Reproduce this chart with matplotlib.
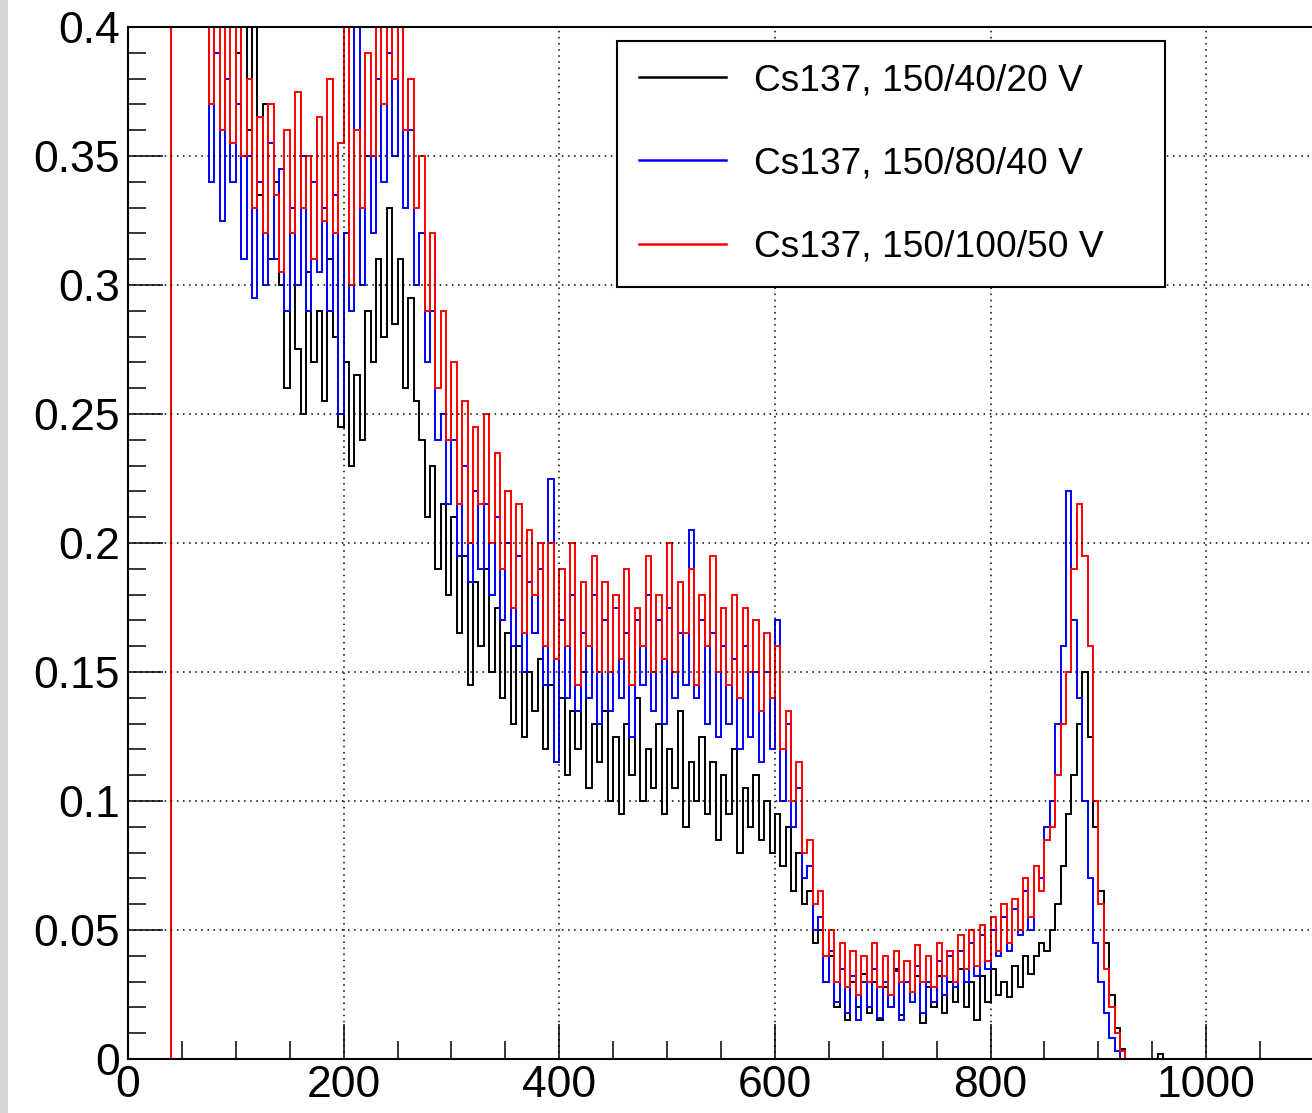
import numpy as np
import matplotlib
matplotlib.use('Agg')
import matplotlib.pyplot as plt
from matplotlib.patches import Rectangle

# ---- histogram data, 5-unit bins from 40 to 1000 ----
bin_lo, bin_hi, bin_w = 40, 1000, 5

black = [
    0.52, 0.58, 0.55, 0.50, 0.47, 0.49, 0.45, 0.46, 0.43, 0.44,          # 40-90
    0.44, 0.42, 0.39, 0.41, 0.36, 0.41, 0.335, 0.37, 0.31, 0.34,         # 90-140
    0.30, 0.26, 0.32, 0.275, 0.25, 0.305, 0.27, 0.29, 0.255, 0.31,       # 140-190
    0.28, 0.245, 0.27, 0.23, 0.265, 0.24, 0.29, 0.27, 0.31, 0.28,        # 190-240
    0.33, 0.285, 0.31, 0.26, 0.295, 0.255, 0.24, 0.21, 0.23, 0.19,       # 240-290
    0.215, 0.18, 0.21, 0.165, 0.195, 0.145, 0.185, 0.16, 0.19, 0.15,     # 290-340
    0.175, 0.14, 0.165, 0.13, 0.16, 0.125, 0.15, 0.135, 0.155, 0.12,     # 340-390
    0.145, 0.115, 0.14, 0.11, 0.135, 0.12, 0.15, 0.105, 0.13, 0.115,     # 390-440
    0.135, 0.10, 0.125, 0.095, 0.13, 0.11, 0.14, 0.10, 0.12, 0.105,      # 440-490
    0.13, 0.095, 0.12, 0.105, 0.135, 0.09, 0.115, 0.10, 0.125, 0.095,    # 490-540
    0.115, 0.085, 0.11, 0.095, 0.12, 0.08, 0.105, 0.09, 0.11, 0.085,     # 540-590
    0.10, 0.08, 0.095, 0.075, 0.09, 0.065, 0.08, 0.06, 0.065, 0.045,     # 590-640
    0.05, 0.03, 0.04, 0.02, 0.035, 0.015, 0.03, 0.02, 0.033, 0.018,      # 640-690
    0.03, 0.015, 0.028, 0.02, 0.035, 0.017, 0.03, 0.022, 0.032, 0.014,   # 690-740
    0.028, 0.02, 0.032, 0.018, 0.03, 0.022, 0.035, 0.02, 0.03, 0.015,    # 740-790
    0.032, 0.022, 0.035, 0.025, 0.03, 0.024, 0.036, 0.028, 0.04, 0.033,  # 790-840
    0.04, 0.045, 0.042, 0.05, 0.06, 0.075, 0.095, 0.11, 0.13, 0.15,      # 840-890
    0.125, 0.09, 0.065, 0.045, 0.025, 0.012, 0.004, 0.0, 0.0, 0.0,       # 890-940
    0.0, 0.0, 0.0, 0.002, 0.0, 0.0, 0.0, 0.0, 0.0, 0.0, 0.0, 0.0,        # 940-1000
]

blue = [
    0.50, 0.55, 0.52, 0.50, 0.47, 0.44, 0.41, 0.34, 0.39, 0.325,         # 40-90
    0.38, 0.34, 0.37, 0.31, 0.35, 0.295, 0.34, 0.30, 0.355, 0.31,        # 90-140
    0.345, 0.29, 0.33, 0.30, 0.35, 0.29, 0.34, 0.305, 0.33, 0.29,        # 140-190
    0.335, 0.25, 0.32, 0.29, 0.41, 0.30, 0.35, 0.32, 0.38, 0.34,         # 190-240
    0.39, 0.35, 0.41, 0.33, 0.36, 0.30, 0.32, 0.27, 0.29, 0.24,          # 240-290
    0.25, 0.215, 0.24, 0.195, 0.23, 0.185, 0.22, 0.19, 0.215, 0.18,      # 290-340
    0.21, 0.17, 0.20, 0.16, 0.195, 0.15, 0.185, 0.165, 0.19, 0.145,      # 340-390
    0.225, 0.115, 0.17, 0.14, 0.18, 0.135, 0.165, 0.14, 0.18, 0.13,      # 390-440
    0.17, 0.135, 0.175, 0.14, 0.165, 0.125, 0.17, 0.145, 0.18, 0.135,    # 440-490
    0.17, 0.13, 0.175, 0.14, 0.165, 0.145, 0.205, 0.14, 0.17, 0.13,      # 490-540
    0.165, 0.125, 0.16, 0.13, 0.155, 0.12, 0.16, 0.125, 0.15, 0.115,     # 540-590
    0.15, 0.12, 0.17, 0.10, 0.13, 0.09, 0.105, 0.07, 0.075, 0.05,        # 590-640
    0.055, 0.03, 0.042, 0.022, 0.035, 0.018, 0.032, 0.015, 0.03, 0.02,   # 640-690
    0.035, 0.016, 0.03, 0.02, 0.034, 0.015, 0.03, 0.022, 0.036, 0.018,   # 690-740
    0.03, 0.022, 0.038, 0.025, 0.04, 0.028, 0.042, 0.03, 0.045, 0.032,   # 740-790
    0.048, 0.035, 0.05, 0.04, 0.055, 0.042, 0.058, 0.048, 0.065, 0.05,   # 790-840
    0.075, 0.07, 0.09, 0.10, 0.13, 0.16, 0.22, 0.17, 0.14, 0.10,         # 840-890
    0.07, 0.045, 0.03, 0.018, 0.008, 0.003, 0.0, 0.0, 0.0, 0.0,          # 890-940
    0.0, 0.0, 0.0, 0.0, 0.0, 0.0, 0.0, 0.0, 0.0, 0.0, 0.0, 0.0,          # 940-1000
]

red = [
    0.60, 0.58, 0.55, 0.52, 0.50, 0.43, 0.41, 0.37, 0.42, 0.36,          # 40-90
    0.40, 0.355, 0.41, 0.35, 0.38, 0.33, 0.365, 0.32, 0.37, 0.335,       # 90-140
    0.305, 0.36, 0.32, 0.375, 0.33, 0.35, 0.31, 0.365, 0.325, 0.38,      # 140-190
    0.32, 0.355, 0.41, 0.30, 0.36, 0.33, 0.39, 0.35, 0.41, 0.37,         # 190-240
    0.42, 0.38, 0.41, 0.36, 0.38, 0.33, 0.35, 0.29, 0.32, 0.26,          # 240-290
    0.29, 0.24, 0.27, 0.215, 0.255, 0.20, 0.245, 0.215, 0.25, 0.20,      # 290-340
    0.235, 0.19, 0.22, 0.175, 0.215, 0.165, 0.205, 0.18, 0.20, 0.16,     # 340-390
    0.20, 0.155, 0.19, 0.16, 0.20, 0.145, 0.185, 0.16, 0.195, 0.15,      # 390-440
    0.185, 0.15, 0.18, 0.155, 0.19, 0.145, 0.175, 0.16, 0.195, 0.15,     # 440-490
    0.18, 0.155, 0.20, 0.15, 0.185, 0.165, 0.19, 0.145, 0.18, 0.16,      # 490-540
    0.195, 0.15, 0.175, 0.145, 0.18, 0.14, 0.175, 0.15, 0.17, 0.135,     # 540-590
    0.165, 0.14, 0.16, 0.12, 0.135, 0.10, 0.115, 0.08, 0.085, 0.06,      # 590-640
    0.065, 0.04, 0.05, 0.03, 0.045, 0.028, 0.042, 0.025, 0.04, 0.03,     # 640-690
    0.045, 0.028, 0.04, 0.025, 0.042, 0.03, 0.038, 0.026, 0.044, 0.03,   # 690-740
    0.04, 0.028, 0.045, 0.032, 0.042, 0.03, 0.048, 0.035, 0.05, 0.036,   # 740-790
    0.052, 0.038, 0.055, 0.042, 0.06, 0.045, 0.062, 0.05, 0.07, 0.055,   # 790-840
    0.075, 0.065, 0.085, 0.09, 0.11, 0.13, 0.15, 0.19, 0.215, 0.195,     # 840-890
    0.16, 0.10, 0.06, 0.035, 0.02, 0.01, 0.003, 0.0, 0.0, 0.0,           # 890-940
    0.0, 0.0, 0.0, 0.0, 0.0, 0.0, 0.0, 0.0, 0.0, 0.0, 0.0, 0.0,          # 940-1000
]

labels = ['Cs137, 150/40/20 V', 'Cs137, 150/80/40 V', 'Cs137, 150/100/50 V']
colors = ['black', '#0000ff', '#ff0000']

# empty range below the threshold, then the 5-unit bins
edges = np.concatenate([[0], np.arange(bin_lo, bin_hi + bin_w, bin_w)])

plt.rcParams['font.family'] = ['Liberation Sans', 'DejaVu Sans']

fig = plt.figure(figsize=(13.12, 11.13), dpi=100)
fig.patches.append(Rectangle((0, 0), 8 / 1312, 1, transform=fig.transFigure,
                             facecolor='#d6d6d6', edgecolor='none'))
ax = fig.add_axes([128 / 1312, 54 / 1113, 1186 / 1312, 1032 / 1113])

for vals, col, lab in zip([black, blue, red], colors, labels):
    ax.stairs(np.concatenate([[0], vals]), edges, color=col, lw=1.4, label=lab)

ax.set_xlim(0, 1100)
ax.set_ylim(0, 0.4)
ax.set_xticks([0, 200, 400, 600, 800, 1000])
ax.set_xticks(np.arange(0, 1101, 50), minor=True)
ax.set_yticks(np.arange(0, 0.401, 0.05))
ax.set_yticks(np.arange(0, 0.401, 0.01), minor=True)
ax.set_yticklabels(['0', '0.05', '0.1', '0.15', '0.2', '0.25', '0.3', '0.35', '0.4'])
ax.tick_params(which='both', direction='in', top=False, right=False, width=1.1,
               labelsize=32, colors='black')
ax.tick_params(which='major', length=25)
ax.tick_params(which='minor', length=13)
ax.tick_params(axis='y', pad=6)
ax.tick_params(axis='x', pad=4)
ax.grid(True, which='major', color='black', linestyle=(0, (1, 3)), linewidth=1.1)
for s in ['left', 'bottom', 'top']:
    ax.spines[s].set_linewidth(1.5)
ax.spines['right'].set_visible(False)

leg = ax.legend(loc='upper left',
                bbox_to_anchor=(617 / 1312, 1 - 41 / 1113, 548 / 1312, 0.0),
                bbox_transform=fig.transFigure, mode='expand',
                fontsize=26.7, frameon=True, fancybox=False, framealpha=1,
                edgecolor='black', handlelength=2.35, handletextpad=0.75,
                labelspacing=1.3, borderpad=0.6, borderaxespad=0)
leg.get_frame().set_linewidth(1.5)
for h in leg.get_lines():
    h.set_linewidth(1.8)

fig.savefig('out.png', dpi=100)
